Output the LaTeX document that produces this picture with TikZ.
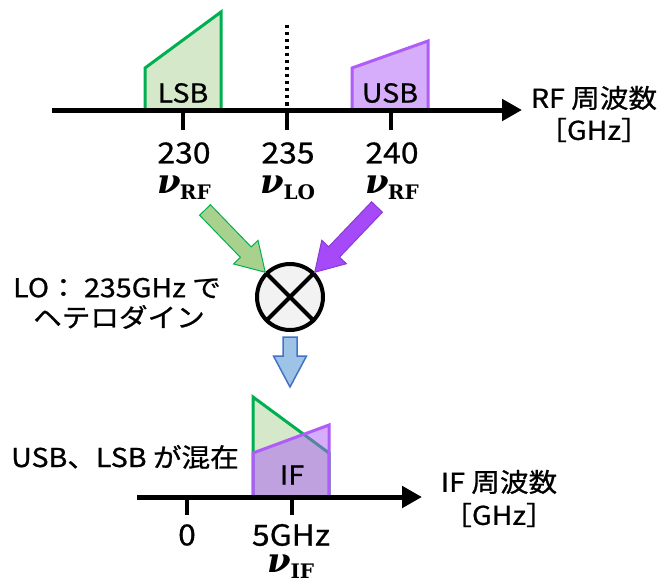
\documentclass[tikz,border=0pt]{standalone}
\usepackage{fontspec}
\setmainfont{Noto Sans CJK JP}[FakeStretch=1.1,FakeBold=0.8]
\newfontfamily\nufont{DejaVu Serif}
\usetikzlibrary{arrows.meta,calc}
\definecolor{gfill}{HTML}{D5E8CA}
\definecolor{gline}{HTML}{00B050}
\definecolor{pline}{HTML}{B05CF8}
\definecolor{pfill}{HTML}{AD5CF5}
\definecolor{garrf}{HTML}{A9D18E}
\definecolor{parrf}{HTML}{A649F8}
\definecolor{parrl}{HTML}{8A3CD0}
\definecolor{barrf}{HTML}{9DC3E6}
\definecolor{barrl}{HTML}{4472C4}
\newcommand\nusub[1]{{\nufont\bfseries\itshape\fontsize{34}{34}\selectfont ν}\kern-1pt\raisebox{-6pt}{\nufont\bfseries\fontsize{20}{20}\selectfont #1}}
\newcommand\blockarrow[6]{%
 \coordinate (#1#2b) at ($(#2)!#6!(#1)$);
 \draw[#3] ($(#1)!#4!90:(#2)$) -- ($(#1#2b)!#4!90:(#2)$) -- ($(#1#2b)!#5!90:(#2)$) -- (#2) -- ($(#1#2b)!#5!-90:(#2)$) -- ($(#1#2b)!#4!-90:(#2)$) -- ($(#1)!#4!-90:(#2)$) -- cycle;}
\tikzset{
 axisline/.style={line width=5pt,-{Triangle[length=20pt,width=21pt]}},
 tickline/.style={line width=4pt},
 lbl/.style={font=\fontsize{26}{30}\selectfont, inner sep=0pt},
 numlbl/.style={font=\fontsize{29}{32}\selectfont, inner sep=0pt},
 nulbl/.style={inner sep=0pt, text height=18pt, text depth=4pt},
 gshape/.style={draw=gline, fill=gfill, line width=3pt, line join=miter},
 pshapefill/.style={fill=pfill, fill opacity=0.5},
 pshapeline/.style={draw=pline, line width=3pt},
}
\begin{document}
\begin{tikzpicture}[x=1pt,y=-1pt]
\useasboundingbox (0,0) rectangle (660,583);
% ---- top spectrum ----
\draw[gshape] (145,110) -- (145,68) -- (221,12) -- (221,110) -- cycle;
\path[pshapefill] (352,110) -- (352,68) -- (428,41) -- (428,110) -- cycle;
\draw[pshapeline] (352,110) -- (352,68) -- (428,41) -- (428,110) -- cycle;
\draw[line width=3.5pt, dash pattern=on 3.5pt off 3.5pt] (287,25) -- (287,108);
\node[lbl] (lsb) at (183,93) {LSB};
\node[lbl] (usb) at (390,93) {USB};
\coordinate (ra) at (52,110);
\coordinate (rb) at (522,110);
\draw[axisline] (ra) -- (rb);
\foreach \x in {183,287,391} \draw[tickline] (\x,110) -- (\x,130);
\node[numlbl] (n230) at (184,153) {230};
\node[numlbl] (n235) at (288,153) {235};
\node[numlbl] (n240) at (392,153) {240};
\node[nulbl] (nu1) at (184,186) {\nusub{RF}};
\node[nulbl] (nu2) at (288,186) {\nusub{LO}};
\node[nulbl] (nu3) at (392,186) {\nusub{RF}};
\node[lbl] (rf1) at (594,98) {RF 周波数};
\node[lbl] (rf2) at (594,130) {［GHz］};
% ---- mixer ----
\node[circle, draw, line width=4pt, fill=black!5, minimum size=66pt, inner sep=0pt] (mix) at (290,297) {};
\draw[line width=4pt] (mix.45) -- (mix.225);
\draw[line width=4pt] (mix.135) -- (mix.-45);
\coordinate (gT) at (205,210);
\coordinate (gP) at (mix.135);
\coordinate (pT) at (377,207);
\coordinate (pP) at (mix.45);
\coordinate (bT) at (290,337);
\coordinate (bP) at (290,387);
\blockarrow{gT}{gP}{fill=garrf, draw=gline, line width=1pt, line join=miter}{7.5pt}{17pt}{28pt}
\blockarrow{pT}{pP}{fill=parrf, draw=parrl, line width=1pt, line join=miter}{7.5pt}{17pt}{28pt}
\blockarrow{bT}{bP}{fill=barrf, draw=barrl, line width=1.5pt, line join=miter}{7pt}{16.5pt}{31pt}
\node[lbl] (lo1) at (117,288) {LO： 235GHz で};
\node[lbl] (lo2) at (119,317) {ヘテロダイン};
% ---- bottom spectrum ----
\draw[gshape] (253,497) -- (253,397) -- (329,453) -- (329,497) -- cycle;
\path[pshapefill] (253,497) -- (253,453) -- (329,425) -- (329,497) -- cycle;
\draw[pshapeline] (253,497) -- (253,453) -- (329,425) -- (329,497) -- cycle;
\node[lbl] (ifl) at (292,475) {IF};
\node[lbl] (mixed) at (125,457) {USB、LSB が混在};
\coordinate (ia) at (137,497);
\coordinate (ib) at (422,497);
\draw[axisline] (ia) -- (ib);
\foreach \x in {187,292} \draw[tickline] (\x,497) -- (\x,515);
\node[numlbl] (z0) at (187,535) {0};
\node[numlbl] (z5) at (291,535) {5GHz};
\node[nulbl] (nu4) at (291,565) {\nusub{IF}};
\node[lbl] (if1) at (499,482) {IF 周波数};
\node[lbl] (if2) at (499,515) {［GHz］};
\end{tikzpicture}
\end{document}
